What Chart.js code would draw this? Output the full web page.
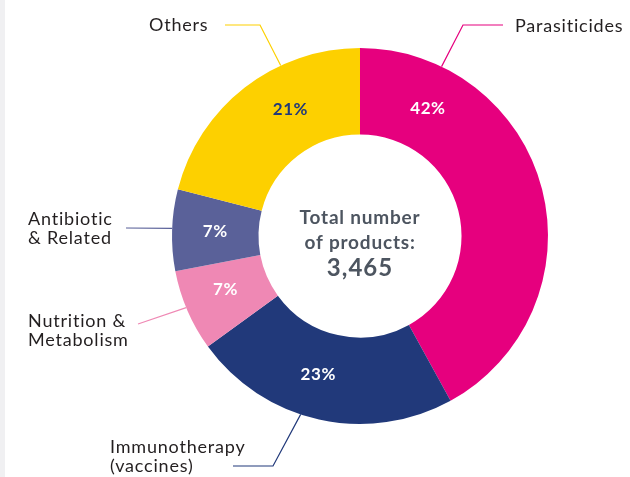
<!DOCTYPE html>
<html>
<head>
<meta charset="utf-8">
<script src="https://cdn.jsdelivr.net/npm/chart.js@4/dist/chart.umd.min.js"></script>
<style>
  html, body { margin: 0; padding: 0; background: #fff; }
  #wrap { position: relative; width: 630px; height: 477px; }
  #strip { position: absolute; left: 0; top: 0; width: 5px; height: 477px; background: #f0f0f2; }
</style>
</head>
<body>
<div id="wrap">
  <div id="strip"></div>
  <canvas id="products" width="630" height="477"></canvas>
</div>
<script>
// product categories and their share (%)
const categories = ['Parasiticides', 'Immunotherapy (vaccines)', 'Nutrition & Metabolism', 'Antibiotic & Related', 'Others'];
const shares = [42, 23, 7, 7, 21];
const colors = ['#e6007e', '#21397a', '#ef88b4', '#5a6199', '#fdd000'];
const pctColors = ['#ffffff', '#ffffff', '#ffffff', '#ffffff', '#21397a'];
const totalProducts = '3,465';

// outside labels: text lines, text position, leader line bend, and where in the slice it sits
const callouts = [
  { lines: ['Parasiticides'], x: 515, y: 26, bend: [[503, 25], [463, 25]], at: 0.17, pctAt: 0.185 },
  { lines: ['Immunotherapy', '(vaccines)'], x: 110, y: 447, bend: [[233, 466], [273, 466]], at: 0.57, pctAt: 0.55 },
  { lines: ['Nutrition &', 'Metabolism'], x: 28, y: 321, bend: [[138, 324]], at: 0.54, pctAt: 0.57 },
  { lines: ['Antibiotic', '& Related'], x: 28, y: 219, bend: [[126, 228]], at: 0.52, pctAt: 0.5 },
  { lines: ['Others'], x: 149, y: 25, bend: [[225, 25], [260, 25]], at: 0.67, pctAt: 0.62 }
];

const labelsPlugin = {
  id: 'labels',
  afterDatasetsDraw(chart) {
    const ctx = chart.ctx;
    const meta = chart.getDatasetMeta(0);
    meta.data.forEach((arc, i) => {
      const p = arc.getProps(['x', 'y', 'startAngle', 'endAngle', 'innerRadius', 'outerRadius']);
      const c = callouts[i];
      const span = p.endAngle - p.startAngle;
      // percentage inside the ring
      const pa = p.startAngle + span * c.pctAt;
      const rm = (p.innerRadius + p.outerRadius) / 2;
      ctx.save();
      ctx.font = 'bold 17px "Lato", sans-serif';
      ctx.letterSpacing = '0.6px';
      ctx.fillStyle = pctColors[i];
      ctx.textAlign = 'center';
      ctx.textBaseline = 'middle';
      ctx.fillText(shares[i] + '%', p.x + Math.cos(pa) * rm, p.y + Math.sin(pa) * rm);

      // leader line
      const a = p.startAngle + span * c.at;
      ctx.strokeStyle = colors[i];
      ctx.lineWidth = 1.2;
      ctx.beginPath();
      ctx.moveTo(c.bend[0][0], c.bend[0][1]);
      for (let k = 1; k < c.bend.length; k++) ctx.lineTo(c.bend[k][0], c.bend[k][1]);
      ctx.lineTo(p.x + Math.cos(a) * p.outerRadius, p.y + Math.sin(a) * p.outerRadius);
      ctx.stroke();

      // label text
      ctx.font = '18px "Lato", sans-serif';
      ctx.letterSpacing = '0.8px';
      ctx.fillStyle = '#231f20';
      ctx.textAlign = 'left';
      c.lines.forEach((t, j) => ctx.fillText(t, c.x, c.y + j * 19));
      ctx.restore();
    });

    // centre total
    const cx = meta.data[0].x, cy = meta.data[0].y;
    ctx.save();
    ctx.fillStyle = '#4d5560';
    ctx.textAlign = 'center';
    ctx.textBaseline = 'middle';
    ctx.font = 'bold 19px "Lato", sans-serif';
    ctx.letterSpacing = '0.8px';
    ctx.fillText('Total number', cx, cy - 18);
    ctx.fillText('of products:', cx, cy + 7);
    ctx.font = 'bold 24px "Lato", sans-serif';
    ctx.letterSpacing = '1px';
    ctx.fillText(totalProducts, cx, cy + 32);
    ctx.restore();
  }
};

new Chart(document.getElementById('products').getContext('2d'), {
  type: 'doughnut',
  data: {
    labels: categories,
    datasets: [{
      data: shares,
      backgroundColor: colors,
      borderWidth: 0
    }]
  },
  options: {
    responsive: false,
    animation: false,
    cutout: '54%',
    layout: { padding: { left: 172, right: 82, top: 48, bottom: 53 } },
    plugins: {
      legend: { display: false },
      tooltip: { enabled: false }
    }
  },
  plugins: [labelsPlugin]
});
</script>
</body>
</html>
